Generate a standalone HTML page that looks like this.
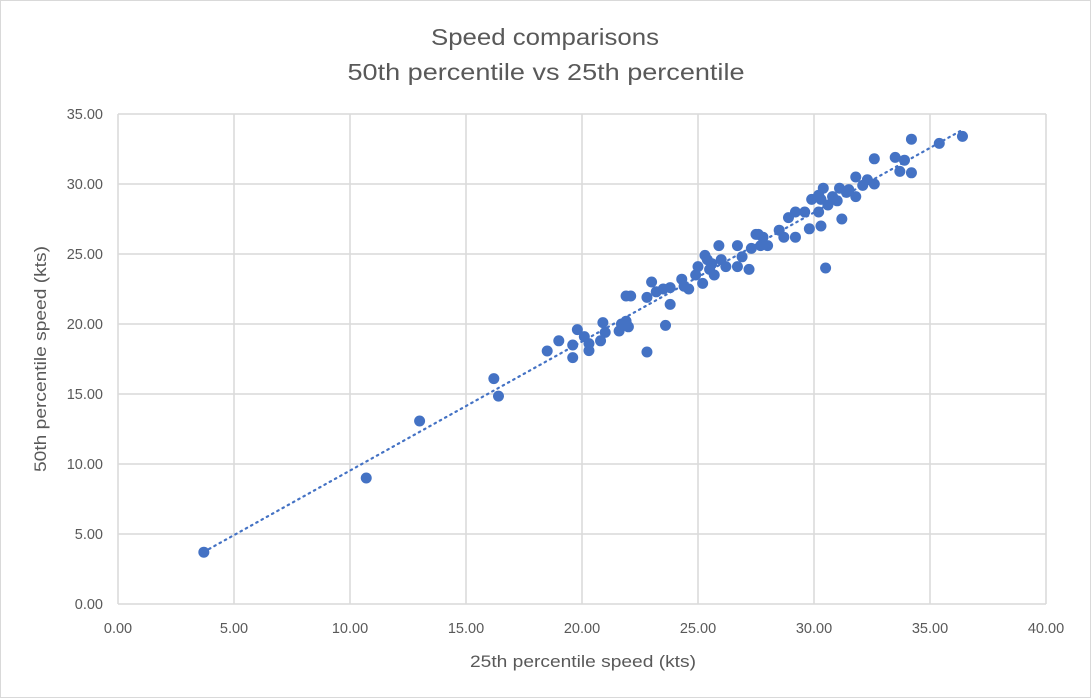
<!DOCTYPE html>
<html><head><meta charset="utf-8"><style>
body{margin:0;background:#fff;}
svg{display:block;font-family:"Liberation Sans",sans-serif;}
</style></head><body>
<svg id="chart" width="1091" height="698">
<rect x="0.5" y="0.5" width="1090" height="697" fill="#fff" stroke="#d9d9d9"/>
<text x="545" y="45" text-anchor="middle" font-size="23" fill="#595959" textLength="228" lengthAdjust="spacingAndGlyphs">Speed comparisons</text>
<text x="546" y="80" text-anchor="middle" font-size="23" fill="#595959" textLength="397" lengthAdjust="spacingAndGlyphs">50th percentile vs 25th percentile</text>
<g id="grid"></g><g id="ticks"></g><g id="trend"></g><g id="pts"></g>
<text x="583" y="667" text-anchor="middle" font-size="17" fill="#595959" textLength="226" lengthAdjust="spacingAndGlyphs">25th percentile speed (kts)</text>
<text transform="translate(46,359) rotate(-90)" text-anchor="middle" font-size="17" fill="#595959" textLength="226" lengthAdjust="spacingAndGlyphs">50th percentile speed (kts)</text>
</svg>
<script>
const xTicks=[0,5,10,15,20,25,30,35,40];
const yTicks=[0,5,10,15,20,25,30,35];
const xVals=[3.7,10.7,13.0,16.2,16.4,18.5,19.0,19.6,19.6,19.8,20.1,20.3,20.3,20.8,20.9,21.0,21.6,21.7,21.9,21.9,22.1,22.0,22.8,22.8,23.0,23.2,23.6,23.5,23.8,23.8,24.3,24.6,24.4,24.9,25.0,25.2,25.3,25.5,25.6,25.7,25.9,26.0,26.2,26.7,26.7,26.9,27.2,27.3,27.5,27.7,27.8,28.0,28.5,28.7,28.9,29.2,29.6,29.8,29.9,30.2,30.3,30.5,30.3,30.6,30.8,31.0,31.1,31.2,31.4,31.8,31.8,32.1,32.6,32.6,33.5,33.7,33.9,34.2,34.2,35.4,36.4,30.4,30.2,31.5,32.3,29.2,27.6,25.4];
const yVals=[3.7,9.0,13.07,16.1,14.85,18.07,18.8,18.5,17.6,19.6,19.1,18.1,18.6,18.8,20.1,19.4,19.5,20.0,20.2,22.0,22.0,19.8,18.0,21.9,23.0,22.3,19.9,22.5,21.4,22.6,23.2,22.5,22.7,23.5,24.1,22.9,24.9,23.9,24.3,23.5,25.6,24.6,24.1,25.6,24.1,24.8,23.9,25.4,26.4,25.6,26.2,25.6,26.7,26.2,27.6,26.2,28.0,26.8,28.9,28.0,27.0,24.0,28.9,28.5,29.1,28.8,29.7,27.5,29.4,30.5,29.1,29.9,31.8,30.0,31.9,30.9,31.7,33.2,30.8,32.9,33.4,29.7,29.2,29.6,30.3,28.0,26.4,24.6];
const NS="http://www.w3.org/2000/svg";
const X0=118,X1=1046,Y0=604,Y1=114;
const sx=v=>X0+(v/40)*(X1-X0), sy=v=>Y0-(v/35)*(Y0-Y1);
function mk(t,a,p){const e=document.createElementNS(NS,t);for(const k in a)e.setAttribute(k,a[k]);p.appendChild(e);return e;}
const grid=document.getElementById('grid'),ticks=document.getElementById('ticks');
xTicks.forEach(v=>{
 const l=mk('line',{x1:sx(v),x2:sx(v),y1:Y1,y2:Y0,stroke:'#d9d9d9','stroke-width':1.5},grid);
 
 
 const t=mk('text',{x:sx(v),y:Y0+29,'text-anchor':'middle','font-size':14.5,fill:'#595959'},ticks);
 t.textContent=v.toFixed(2);
 
 
});
yTicks.forEach(v=>{
 const l=mk('line',{x1:X0,x2:X1,y1:sy(v),y2:sy(v),stroke:'#d9d9d9','stroke-width':1.5},grid);
 
 
 const t=mk('text',{x:X0-15,y:sy(v)+5,'text-anchor':'end','font-size':14.5,fill:'#595959'},ticks);
 t.textContent=v.toFixed(2);
 
 
});
const n=xVals.length;let mx=0,my=0;for(let i=0;i<n;i++){mx+=xVals[i];my+=yVals[i];}mx/=n;my/=n;
let sxy=0,sxx=0;for(let i=0;i<n;i++){sxy+=(xVals[i]-mx)*(yVals[i]-my);sxx+=(xVals[i]-mx)**2;}
const b=sxy/sxx,a=my-b*mx;const xmin=Math.min(...xVals),xmax=Math.max(...xVals);
const tl=mk('line',{x1:sx(xmin),y1:sy(a+b*xmin),x2:sx(xmax),y2:sy(a+b*xmax),stroke:'#4472c4','stroke-width':2.2,'stroke-dasharray':'1.5 4.5','stroke-linecap':'round'},document.getElementById('trend'));


const pts=document.getElementById('pts');
for(let i=0;i<n;i++){
 const c=mk('circle',{cx:sx(xVals[i]),cy:sy(yVals[i]),r:5.5,fill:'#4472c4'},pts);
 
 
}
</script>
</body></html>
